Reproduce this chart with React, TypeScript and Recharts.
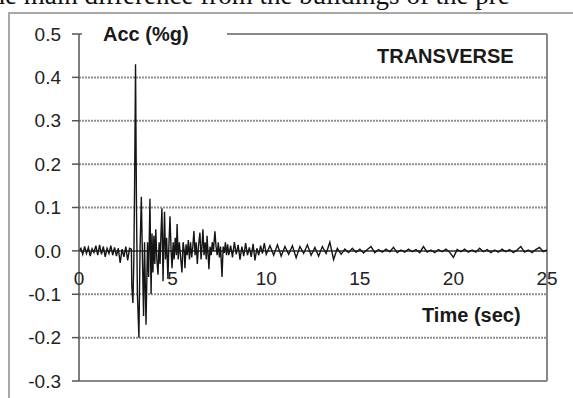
import React from 'react'
import {
  LineChart,
  Line,
  XAxis,
  YAxis,
  CartesianGrid,
  ReferenceLine,
  ReferenceDot,
} from 'recharts'

// [time (s), acceleration (%g)], split by phase
const preEvent: [number, number][] = [
  [0.0, 0.0], [0.1, 0.006], [0.2, -0.008], [0.3, 0.01], [0.4, -0.006],
  [0.5, 0.008], [0.6, -0.012], [0.7, 0.005], [0.8, -0.004], [0.9, 0.012],
  [1.0, -0.01], [1.1, 0.014], [1.2, -0.008], [1.3, 0.01], [1.4, -0.014],
  [1.5, 0.006], [1.6, -0.006], [1.7, 0.012], [1.8, -0.01], [1.9, 0.008],
  [2.0, -0.012], [2.1, 0.006], [2.2, -0.028], [2.3, 0.004], [2.4, -0.014],
  [2.5, 0.01], [2.6, -0.022], [2.7, 0.006],
]

const strongMotion: [number, number][] = [
  [2.8, 0.004], [2.82, -0.08], [2.88, -0.12], [2.93, -0.02], [2.97, 0.15],
  [3.02, 0.43], [3.07, 0.1], [3.12, -0.1], [3.2, -0.2], [3.26, 0.0],
  [3.33, 0.125], [3.39, -0.02], [3.45, -0.15], [3.5, 0.02], [3.58, -0.17],
  [3.66, 0.02], [3.72, -0.06], [3.79, 0.12], [3.85, -0.1], [3.9, 0.04],
  [3.95, -0.05], [4.0, 0.035], [4.05, -0.03], [4.1, 0.05], [4.16, -0.02],
  [4.22, -0.055], [4.28, 0.02], [4.33, -0.03], [4.38, 0.04], [4.43, 0.098],
  [4.49, -0.07], [4.53, 0.02], [4.57, 0.09], [4.62, -0.02], [4.68, 0.03],
  [4.75, -0.065], [4.8, 0.01], [4.86, 0.08], [4.92, 0.0], [4.97, -0.04],
  [5.03, 0.02], [5.08, -0.02], [5.14, 0.03], [5.2, -0.01], [5.24, 0.062],
  [5.3, -0.02], [5.36, 0.02], [5.42, -0.01], [5.5, -0.05], [5.56, 0.02],
  [5.62, 0.0], [5.66, -0.04], [5.72, 0.015], [5.78, -0.01], [5.84, 0.025],
  [5.9, -0.02], [5.96, 0.02], [6.02, -0.015], [6.08, 0.01], [6.14, 0.046],
  [6.2, -0.01], [6.26, 0.02], [6.32, -0.03], [6.38, 0.01], [6.46, 0.042],
  [6.52, -0.02], [6.57, 0.01], [6.62, 0.05], [6.68, -0.01], [6.74, 0.02],
  [6.8, -0.02], [6.84, 0.035], [6.9, -0.01], [6.94, -0.042], [7.0, 0.01],
  [7.06, -0.01], [7.12, 0.02], [7.18, 0.0], [7.26, 0.045], [7.32, 0.01],
  [7.38, -0.01], [7.44, 0.02], [7.5, -0.015], [7.56, 0.01], [7.64, -0.06],
  [7.7, 0.01], [7.76, -0.005], [7.82, 0.02], [7.88, -0.01], [7.94, 0.015],
  [8.0, -0.01],
]

const coda: [number, number][] = [
  [8.1, 0.012], [8.2, -0.015], [8.3, 0.02], [8.4, -0.008], [8.5, 0.014],
  [8.6, -0.02], [8.7, 0.01], [8.8, -0.012], [8.9, 0.018], [9.0, -0.01],
  [9.1, 0.008], [9.2, -0.014], [9.3, 0.016], [9.4, -0.022], [9.5, 0.006],
  [9.6, -0.01], [9.7, 0.012], [9.8, -0.006], [9.9, 0.018], [10.0, -0.008],
]

const tail: [number, number][] = [
  [10.2, 0.012], [10.4, -0.01], [10.6, 0.014], [10.8, -0.012], [11.0, 0.01],
  [11.2, -0.008], [11.4, 0.012], [11.6, -0.016], [11.8, 0.01], [12.0, -0.006],
  [12.2, 0.014], [12.4, -0.01], [12.6, 0.008], [12.8, -0.012], [13.0, 0.01],
  [13.2, -0.006], [13.4, 0.02], [13.6, -0.02], [13.8, 0.006], [14.0, -0.008],
  [14.2, 0.004], [14.4, -0.004], [14.6, 0.006], [14.8, -0.003], [15.0, 0.004],
  [15.2, -0.005], [15.4, 0.003], [15.6, 0.01], [15.8, -0.004], [16.0, 0.003],
  [16.2, -0.003], [16.4, 0.004], [16.6, -0.002], [16.8, 0.008], [17.0, -0.004],
  [17.2, 0.002], [17.4, -0.003], [17.6, 0.004], [17.8, -0.002], [18.0, 0.003],
  [18.2, -0.004], [18.4, 0.01], [18.6, -0.003], [18.8, 0.002], [19.0, -0.004],
  [19.2, 0.003], [19.4, -0.002], [19.6, 0.004], [19.8, -0.003], [20.0, -0.015],
  [20.2, 0.003], [20.4, -0.002], [20.6, 0.004], [20.8, -0.003], [21.0, 0.002],
  [21.2, -0.003], [21.4, 0.006], [21.6, -0.002], [21.8, 0.003], [22.0, -0.004],
  [22.2, 0.002], [22.4, -0.003], [22.6, 0.004], [22.8, -0.002], [23.0, 0.003],
  [23.2, -0.004], [23.4, 0.002], [23.6, 0.01], [23.8, -0.003], [24.0, 0.002],
  [24.2, -0.004], [24.4, 0.003], [24.6, 0.008], [24.8, -0.002], [25.0, 0.002],
]

const xTicks = [0, 5, 10, 15, 20, 25]
const yTicks = [-0.3, -0.2, -0.1, 0, 0.1, 0.2, 0.3, 0.4, 0.5]

const data = [...preEvent, ...strongMotion, ...coda, ...tail].map(([t, a]) => ({ t, a }))

const sans = 'Liberation Sans, Arial, sans-serif'

const boldText: React.CSSProperties = {
  position: 'absolute',
  fontFamily: sans,
  fontWeight: 700,
  fontSize: 20,
  lineHeight: '22px',
  color: '#1a1a1a',
  whiteSpace: 'nowrap',
}

export default function App() {
  return (
    <div
      style={{
        position: 'fixed',
        left: 0,
        top: 0,
        width: 573,
        height: 398,
        overflow: 'hidden',
        background: '#fff',
      }}
    >
      {/* tail of the paragraph above the figure, clipped by the crop */}
      <div
        style={{
          position: 'absolute',
          left: -16,
          top: -18,
          fontFamily: 'Liberation Serif, Times New Roman, serif',
          fontSize: 27,
          lineHeight: '27px',
          whiteSpace: 'nowrap',
          color: '#111',
        }}
      >
        the main difference from the buildings of the pre
      </div>

      <div
        style={{
          position: 'absolute',
          left: 8,
          top: 12,
          width: 700,
          height: 500,
          borderLeft: '2px solid #a8a8a8',
          borderTop: '2px solid #a8a8a8',
        }}
      />

      <div style={{ position: 'absolute', left: 0, top: 0 }}>
        <LineChart
          width={573}
          height={398}
          data={data}
          margin={{ top: 34, right: 26, bottom: 17, left: 8 }}
        >
          <CartesianGrid
            vertical={false}
            stroke="#8f8f8f"
            strokeWidth={2}
            strokeDasharray="2 1"
          />
          <XAxis dataKey="t" type="number" domain={[0, 25]} ticks={xTicks} hide />
          <YAxis
            type="number"
            domain={[-0.3, 0.5]}
            ticks={yTicks}
            width={71}
            tickFormatter={(v: number) => v.toFixed(1)}
            tick={{ fontSize: 19, fill: '#222', fontFamily: sans }}
            tickSize={7}
            tickMargin={11}
            axisLine={{ stroke: '#555', strokeWidth: 1.5 }}
            tickLine={{ stroke: '#555', strokeWidth: 1.5 }}
            interval={0}
          />
          <ReferenceLine y={0.5} stroke="#888" strokeWidth={2} />
          <ReferenceLine y={-0.3} stroke="#888" strokeWidth={2} />
          <ReferenceLine x={25} stroke="#888" strokeWidth={2} />
          <ReferenceLine y={0} stroke="#444" strokeWidth={1.5} />
          <Line
            type="linear"
            dataKey="a"
            stroke="#151515"
            strokeWidth={1.4}
            dot={false}
            isAnimationActive={false}
          />
          {xTicks.map((t) => (
            <ReferenceDot
              key={t}
              x={t}
              y={0}
              r={0}
              fill="none"
              stroke="none"
              label={{
                value: String(t),
                position: 'bottom',
                offset: 21,
                fontSize: 19,
                fill: '#222',
                fontFamily: sans,
              }}
            />
          ))}
        </LineChart>
      </div>

      <div style={{ ...boldText, left: 82, top: 23, width: 124, background: '#fff', paddingLeft: 21 }}>
        Acc (%g)
      </div>
      <div style={{ ...boldText, left: 377, top: 45 }}>TRANSVERSE</div>
      <div style={{ ...boldText, left: 422, top: 304 }}>Time (sec)</div>
    </div>
  )
}
